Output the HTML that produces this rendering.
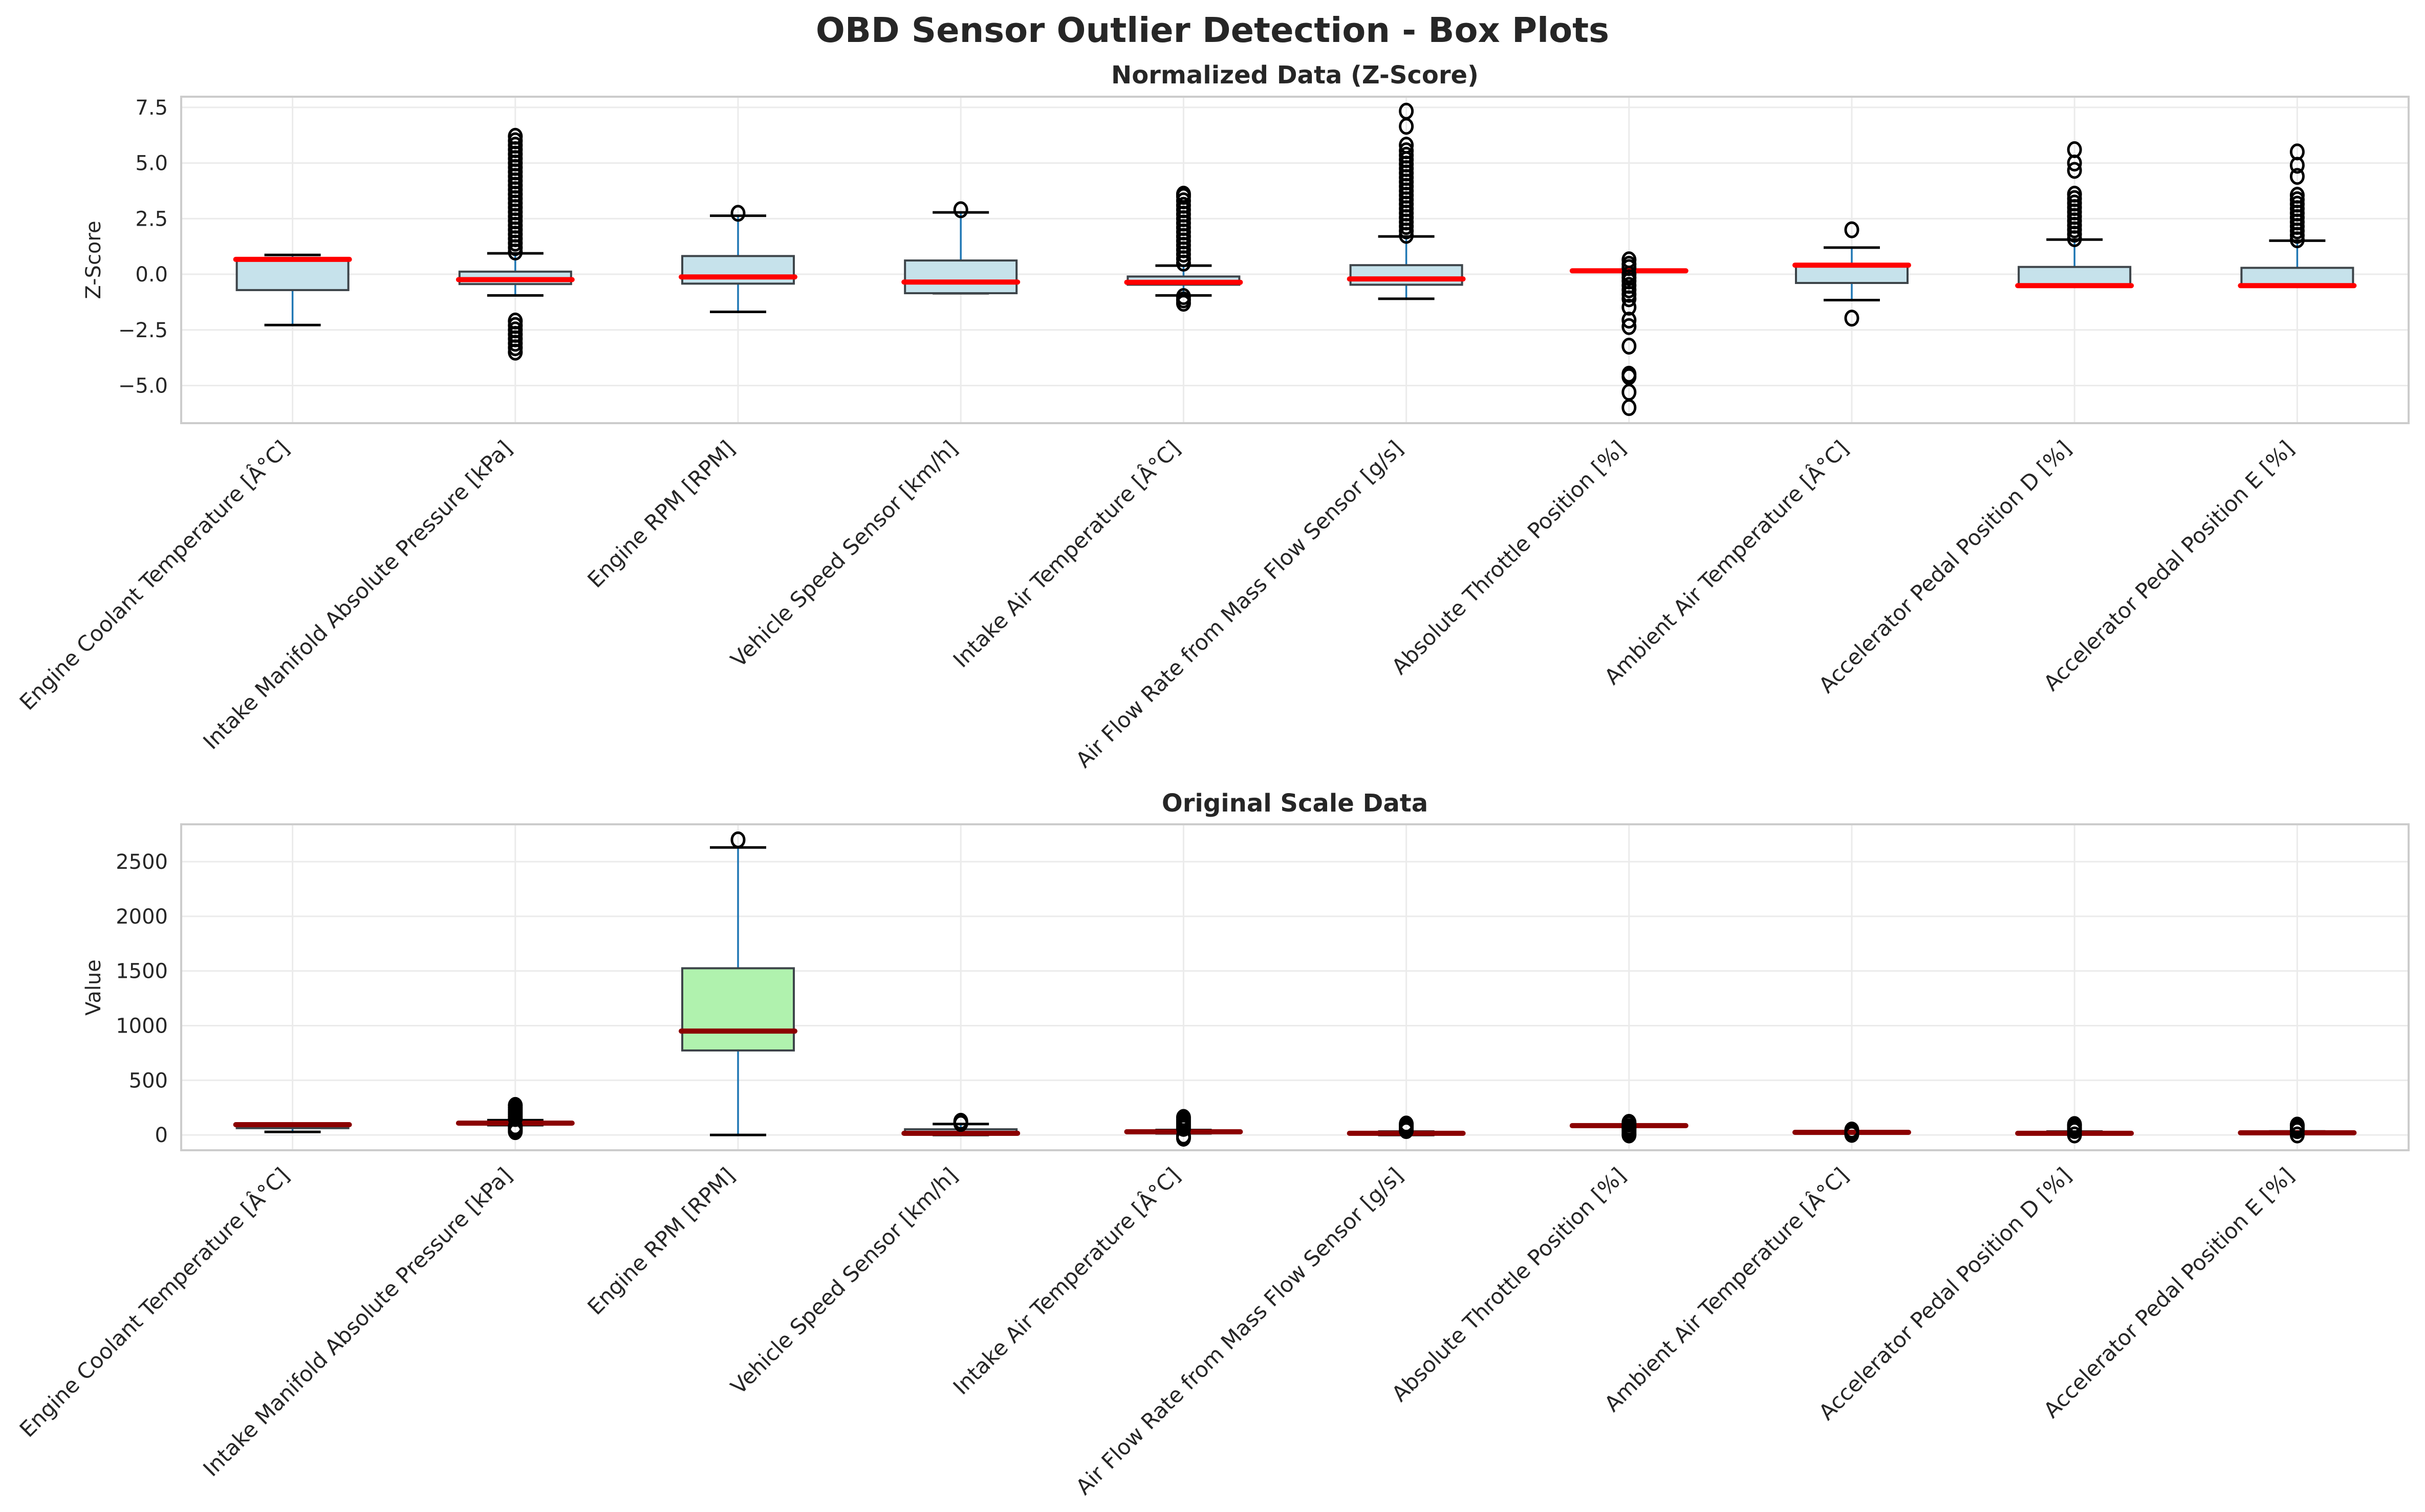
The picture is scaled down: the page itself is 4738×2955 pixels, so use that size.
<!DOCTYPE html>
<html><head><meta charset="utf-8"><style>
html,body{margin:0;padding:0;background:#fff}
svg{display:block;font-family:"DejaVu Sans","Liberation Sans",sans-serif}
</style></head><body>
<svg id="chart" width="4738" height="2955" viewBox="0 0 4738 2955" xmlns="http://www.w3.org/2000/svg">
<text x="2369" y="82" text-anchor="middle" font-size="67" font-weight="bold" fill="#262626">OBD Sensor Outlier Detection - Box Plots</text>
<text x="2530" y="163" text-anchor="middle" font-size="48" font-weight="bold" fill="#262626">Normalized Data (Z-Score)</text>
<text x="2530" y="1586" text-anchor="middle" font-size="48" font-weight="bold" fill="#262626">Original Scale Data</text>
<text transform="translate(196,508) rotate(-90)" text-anchor="middle" font-size="40" fill="#262626">Z-Score</text>
<text transform="translate(196,1930) rotate(-90)" text-anchor="middle" font-size="40" fill="#262626">Value</text>
<g id="top"></g>
<g id="bottom"></g>
</svg>
<script>
const categories = ["Engine Coolant Temperature [Â°C]","Intake Manifold Absolute Pressure [kPa]","Engine RPM [RPM]","Vehicle Speed Sensor [km/h]","Intake Air Temperature [Â°C]","Air Flow Rate from Mass Flow Sensor [g/s]","Absolute Throttle Position [%]","Ambient Air Temperature [Â°C]","Accelerator Pedal Position D [%]","Accelerator Pedal Position E [%]"];
const zLow = [-2.28,-0.95,-1.69,-0.85,-0.95,-1.1,0.155,-1.16,-0.51,-0.51];
const zQ1 = [-0.71,-0.44,-0.42,-0.85,-0.47,-0.47,0.155,-0.39,-0.51,-0.51];
const zMed = [0.67,-0.24,-0.12,-0.35,-0.36,-0.21,0.155,0.41,-0.51,-0.51];
const zQ3 = [0.67,0.12,0.82,0.62,-0.1,0.41,0.155,0.41,0.33,0.29];
const zHigh = [0.87,0.94,2.63,2.78,0.39,1.7,0.155,1.2,1.56,1.51];
const zOutliers = [
 [],
 [1.0,1.2,1.4,1.6,1.8,2.0,2.2,2.4,2.6,2.8,3.0,3.2,3.4,3.6,3.8,4.0,4.2,4.4,4.6,4.8,5.0,5.2,5.4,5.6,5.8,6.0,6.2,-2.1,-2.3,-2.5,-2.7,-2.9,-3.1,-3.3,-3.5],
 [2.74],
 [2.9],
 [0.5,0.7,0.9,1.1,1.3,1.5,1.7,1.9,2.1,2.3,2.5,2.7,2.9,3.1,3.3,3.5,3.6,-1.0,-1.15,-1.3],
 [1.75,1.95,2.15,2.35,2.55,2.75,2.95,3.15,3.35,3.55,3.75,3.95,4.15,4.35,4.55,4.75,4.95,5.15,5.35,5.55,5.8,6.65,7.33],
 [0.65,0.45,0.3,0.0,-0.15,-0.3,-0.5,-0.7,-0.9,-1.1,-1.48,-2.06,-2.35,-3.23,-4.49,-4.6,-5.3,-5.99],
 [2.0,-1.97],
 [1.6,1.8,2.0,2.2,2.4,2.6,2.8,3.0,3.2,3.4,3.6,4.67,5.0,5.6],
 [1.55,1.75,1.95,2.15,2.35,2.55,2.75,2.95,3.15,3.35,3.55,4.4,4.9,5.5]
];
const oLow = [28,90,0,0,15,0,85,24,10,12];
const oQ1 = [62,98,773,2,20,4,80,20,8,10];
const oMed = [94,108,950,15,29,15,85,24,15,20];
const oQ3 = [96,115,1525,52,40,24,90,28,28,28];
const oHigh = [100,135,2630,100,45,30,85,24,30,32];
const oOutliers = [
 [],
 [150,170,190,210,230,250,270,30,45,60,75],
 [2700],
 [105,115,125],
 [60,80,100,120,140,160,-10,-20,-30],
 [40,55,70,85,100],
 [0,15,30,45,60,75,100,115],
 [5,15,35,45],
 [40,55,70,85,95,0],
 [40,55,70,85,90,0]
];
const zTicks = [-5.0,-2.5,0.0,2.5,5.0,7.5];
const oTicks = [0,500,1000,1500,2000,2500];

const NS="http://www.w3.org/2000/svg";
const L=354,R=4706;
const step=(R-L)/10;
const xPos=i=>L+step*(i+0.5);
function mk(g,tag,attrs){const e=document.createElementNS(NS,tag);for(const k in attrs)e.setAttribute(k,attrs[k]);g.appendChild(e);return e;}

function panel(gid,top,bottom,vmin,vmax,ticks,fmt,low,q1,med,q3,high,outs,fillFn,medColor,prefix){
  const g=document.getElementById(gid);
  const y=v=>bottom-(v-vmin)/(vmax-vmin)*(bottom-top);
  ticks.forEach(t=>{
    const ln=mk(g,'line',{x1:L,x2:R,y1:y(t),y2:y(t),stroke:'#ebebeb','stroke-width':3});
    
    
    const tx=mk(g,'text',{x:L-26,y:y(t)+14,'text-anchor':'end','font-size':40,fill:'#262626'});
    tx.textContent=fmt(t);
    
    
  });
  categories.forEach((c,i)=>{
    const x=xPos(i);
    const gl=mk(g,'line',{x1:x,x2:x,y1:top,y2:bottom,stroke:'#ebebeb','stroke-width':3});
    
    
  });
  const fr=mk(g,'rect',{x:L,y:top,width:R-L,height:bottom-top,fill:'none',stroke:'#cccccc','stroke-width':4});
  
  
  categories.forEach((c,i)=>{
    const x=xPos(i),bw=109,cw=55;
    const bg=mk(g,'g',{});
    
    
    mk(bg,'line',{x1:x,x2:x,y1:y(q1[i]),y2:y(low[i]),stroke:'#1f77b4','stroke-width':3.5});
    mk(bg,'line',{x1:x,x2:x,y1:y(q3[i]),y2:y(high[i]),stroke:'#1f77b4','stroke-width':3.5});
    mk(bg,'line',{x1:x-cw,x2:x+cw,y1:y(low[i]),y2:y(low[i]),stroke:'#000','stroke-width':5});
    mk(bg,'line',{x1:x-cw,x2:x+cw,y1:y(high[i]),y2:y(high[i]),stroke:'#000','stroke-width':5});
    const yt=y(q3[i]),yb=y(q1[i]);
    mk(bg,'rect',{x:x-bw,y:Math.min(yt,yb),width:2*bw,height:Math.max(Math.abs(yb-yt),0.5),fill:fillFn(i),stroke:'#3d4449','stroke-width':4});
    mk(bg,'line',{x1:x-bw-2,x2:x+bw+2,y1:y(med[i]),y2:y(med[i]),stroke:medColor,'stroke-width':10,'stroke-linecap':'round'});
    outs[i].forEach(v=>{
      const o=mk(bg,'ellipse',{cx:x,cy:y(v),rx:12,ry:14,fill:'none',stroke:'#000','stroke-width':5});
      
      
    });
    const lb=mk(g,'text',{transform:`translate(${x-4},${bottom+52}) rotate(-45)`,'text-anchor':'end','font-size':42,fill:'#262626'});
    lb.textContent=c;
    
    
  });
}
const zfmt=t=>(t<0?'\u2212':'')+Math.abs(t).toFixed(1);
panel('top',189,827,-6.69,7.98,zTicks,zfmt,zLow,zQ1,zMed,zQ3,zHigh,zOutliers,i=>'#c6e2eb','#ff0000','top');
panel('bottom',1611,2248,-140,2842,oTicks,t=>String(t),oLow,oQ1,oMed,oQ3,oHigh,oOutliers,i=>i===2?'#b0f2ae':'#c6e2eb','#8b0000','bottom');
</script>
</body></html>
